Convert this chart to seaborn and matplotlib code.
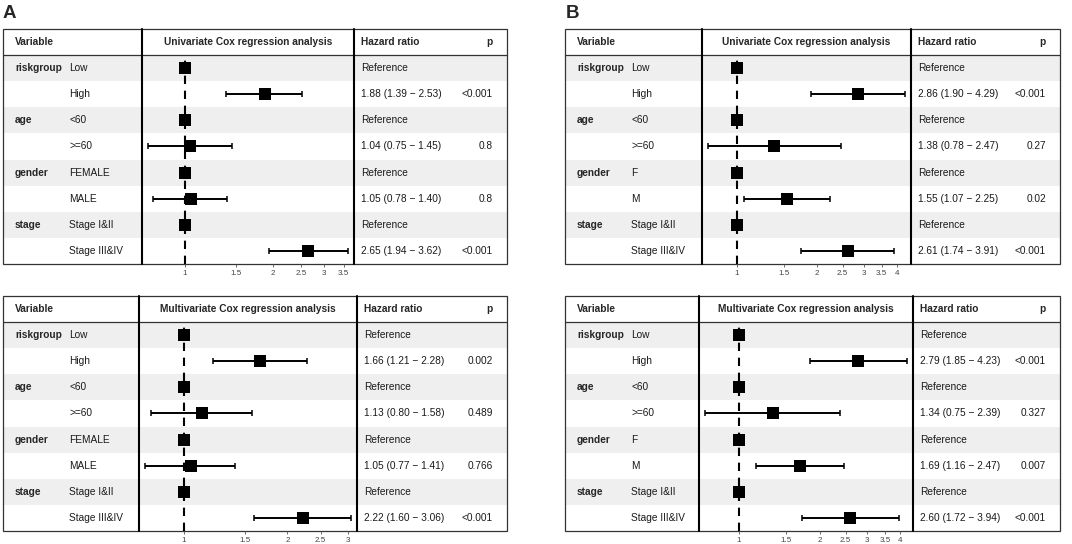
import numpy as np
import matplotlib
matplotlib.use("Agg")
import matplotlib.pyplot as plt
from matplotlib.patches import Rectangle
from matplotlib.ticker import NullLocator
import pandas as pd
import seaborn as sns

W, H = 1072, 544

variables = ["riskgroup", "", "age", "", "gender", "", "stage", ""]
levels_a = ["Low", "High", "<60", ">=60", "FEMALE", "MALE", "Stage I&II", "Stage III&IV"]
levels_b = ["Low", "High", "<60", ">=60", "F", "M", "Stage I&II", "Stage III&IV"]

# A - univariate
a_uni_hr = [1, 1.88, 1, 1.04, 1, 1.05, 1, 2.65]
a_uni_lo = [np.nan, 1.39, np.nan, 0.75, np.nan, 0.78, np.nan, 1.94]
a_uni_hi = [np.nan, 2.53, np.nan, 1.45, np.nan, 1.40, np.nan, 3.62]
a_uni_p = ["", "<0.001", "", "0.8", "", "0.8", "", "<0.001"]
a_uni_ticks = [1, 1.5, 2, 2.5, 3, 3.5]

# A - multivariate
a_mul_hr = [1, 1.66, 1, 1.13, 1, 1.05, 1, 2.22]
a_mul_lo = [np.nan, 1.21, np.nan, 0.80, np.nan, 0.77, np.nan, 1.60]
a_mul_hi = [np.nan, 2.28, np.nan, 1.58, np.nan, 1.41, np.nan, 3.06]
a_mul_p = ["", "0.002", "", "0.489", "", "0.766", "", "<0.001"]
a_mul_ticks = [1, 1.5, 2, 2.5, 3]

# B - univariate
b_uni_hr = [1, 2.86, 1, 1.38, 1, 1.55, 1, 2.61]
b_uni_lo = [np.nan, 1.90, np.nan, 0.78, np.nan, 1.07, np.nan, 1.74]
b_uni_hi = [np.nan, 4.29, np.nan, 2.47, np.nan, 2.25, np.nan, 3.91]
b_uni_p = ["", "<0.001", "", "0.27", "", "0.02", "", "<0.001"]
b_uni_ticks = [1, 1.5, 2, 2.5, 3, 3.5, 4]

# B - multivariate
b_mul_hr = [1, 2.79, 1, 1.34, 1, 1.69, 1, 2.60]
b_mul_lo = [np.nan, 1.85, np.nan, 0.75, np.nan, 1.16, np.nan, 1.72]
b_mul_hi = [np.nan, 4.23, np.nan, 2.39, np.nan, 2.47, np.nan, 3.94]
b_mul_p = ["", "<0.001", "", "0.327", "", "0.007", "", "<0.001"]
b_mul_ticks = [1, 1.5, 2, 2.5, 3, 3.5, 4]

sns.set_theme(style="white")
plt.rcParams["font.family"] = ["Liberation Sans", "DejaVu Sans"]

FS = 7.3
fig = plt.figure(figsize=(W / 100, H / 100), dpi=100)
bg = fig.add_axes([0, 0, 1, 1])
bg.set_xlim(0, W)
bg.set_ylim(H, 0)
bg.axis("off")


def draw_table(box, title, levels, hr, lo, hi, p, ticks):
    left, sep1, sep2, right, top, hdr, bottom = box
    n = len(levels)
    rh = (bottom - hdr) / n

    # row shading
    for i in range(0, n, 2):
        bg.add_patch(Rectangle((left, hdr + i * rh), right - left, rh,
                               facecolor="#EFEFEF", edgecolor="none", zorder=0))
    bg.add_patch(Rectangle((left, top), right - left, bottom - top, fill=False,
                           edgecolor="#333333", lw=0.9, zorder=2))
    bg.plot([left, right], [hdr, hdr], color="#333333", lw=0.9, zorder=2)
    for sx in (sep1, sep2):
        bg.plot([sx, sx], [top, bottom], color="black", lw=1.5, zorder=2)

    yh = (top + hdr) / 2
    bg.text(left + 12, yh, "Variable", fontsize=FS, fontweight="bold", va="center")
    bg.text((sep1 + sep2) / 2, yh, title, fontsize=FS, fontweight="bold",
            va="center", ha="center")
    bg.text(sep2 + 7, yh, "Hazard ratio", fontsize=FS, fontweight="bold", va="center")
    bg.text(right - 14, yh, "p", fontsize=FS, fontweight="bold", va="center", ha="right")

    for i in range(n):
        yc = hdr + (i + 0.5) * rh
        bg.text(left + 12, yc, variables[i], fontsize=FS, fontweight="bold", va="center")
        bg.text(left + 66, yc, levels[i], fontsize=FS, va="center", color="#1a1a1a")
        if np.isnan(lo[i]):
            s = "Reference"
        else:
            s = f"{hr[i]:.2f} ({lo[i]:.2f} \u2212 {hi[i]:.2f})"
        bg.text(sep2 + 7, yc, s, fontsize=FS, va="center", color="#1a1a1a")
        bg.text(right - 14, yc, p[i], fontsize=FS, va="center", ha="right", color="#1a1a1a")

    # forest column
    ax = fig.add_axes([sep1 / W, 1 - bottom / H, (sep2 - sep1) / W, (bottom - hdr) / H])
    ax.patch.set_alpha(0)
    df = pd.DataFrame({"row": np.arange(n) + 0.5, "hr": hr, "lo": lo, "hi": hi})
    ax.set_xscale("log")
    ax.axvline(1, color="black", ls=(0, (4, 3.2)), lw=1.5, zorder=1)
    ci = df.dropna()
    ax.errorbar(ci["hr"], ci["row"], xerr=[ci["hr"] - ci["lo"], ci["hi"] - ci["hr"]],
                fmt="none", ecolor="black", elinewidth=1.4, capsize=2, capthick=1.1,
                zorder=2)
    sns.scatterplot(data=df, x="hr", y="row", marker="s", s=68, color="black",
                    edgecolor="black", linewidth=0, ax=ax, zorder=3, legend=False)
    lmin = np.log(min(np.nanmin(lo), 1))
    lmax = np.log(max(np.nanmax(hi), 1))
    pad = 0.03 * (lmax - lmin)
    ax.set_xlim(np.exp(lmin - pad), np.exp(lmax + pad))
    ax.set_ylim(n, 0)
    ax.set_xticks(ticks)
    ax.set_xticklabels([f"{t:g}" for t in ticks])
    ax.xaxis.set_minor_locator(NullLocator())
    ax.set_yticks([])
    ax.set_xlabel("")
    ax.set_ylabel("")
    for sp in ax.spines.values():
        sp.set_visible(False)
    ax.tick_params(axis="x", bottom=True, length=2.5, width=0.6, color="#555555",
                   labelsize=5.8, labelcolor="#444444", pad=1.5)


draw_table((3, 142, 354, 507, 29, 55, 264), "Univariate Cox regression analysis",
           levels_a, a_uni_hr, a_uni_lo, a_uni_hi, a_uni_p, a_uni_ticks)
draw_table((3, 139, 357, 507, 296, 322, 531), "Multivariate Cox regression analysis",
           levels_a, a_mul_hr, a_mul_lo, a_mul_hi, a_mul_p, a_mul_ticks)
draw_table((565, 702, 911, 1060, 29, 55, 264), "Univariate Cox regression analysis",
           levels_b, b_uni_hr, b_uni_lo, b_uni_hi, b_uni_p, b_uni_ticks)
draw_table((565, 699, 913, 1060, 296, 322, 531), "Multivariate Cox regression analysis",
           levels_b, b_mul_hr, b_mul_lo, b_mul_hi, b_mul_p, b_mul_ticks)

bg.text(3, 18, "A", fontsize=13.5, fontweight="bold", va="baseline")
bg.text(566, 18, "B", fontsize=13.5, fontweight="bold", va="baseline")

fig.savefig("out.png", dpi=100)
